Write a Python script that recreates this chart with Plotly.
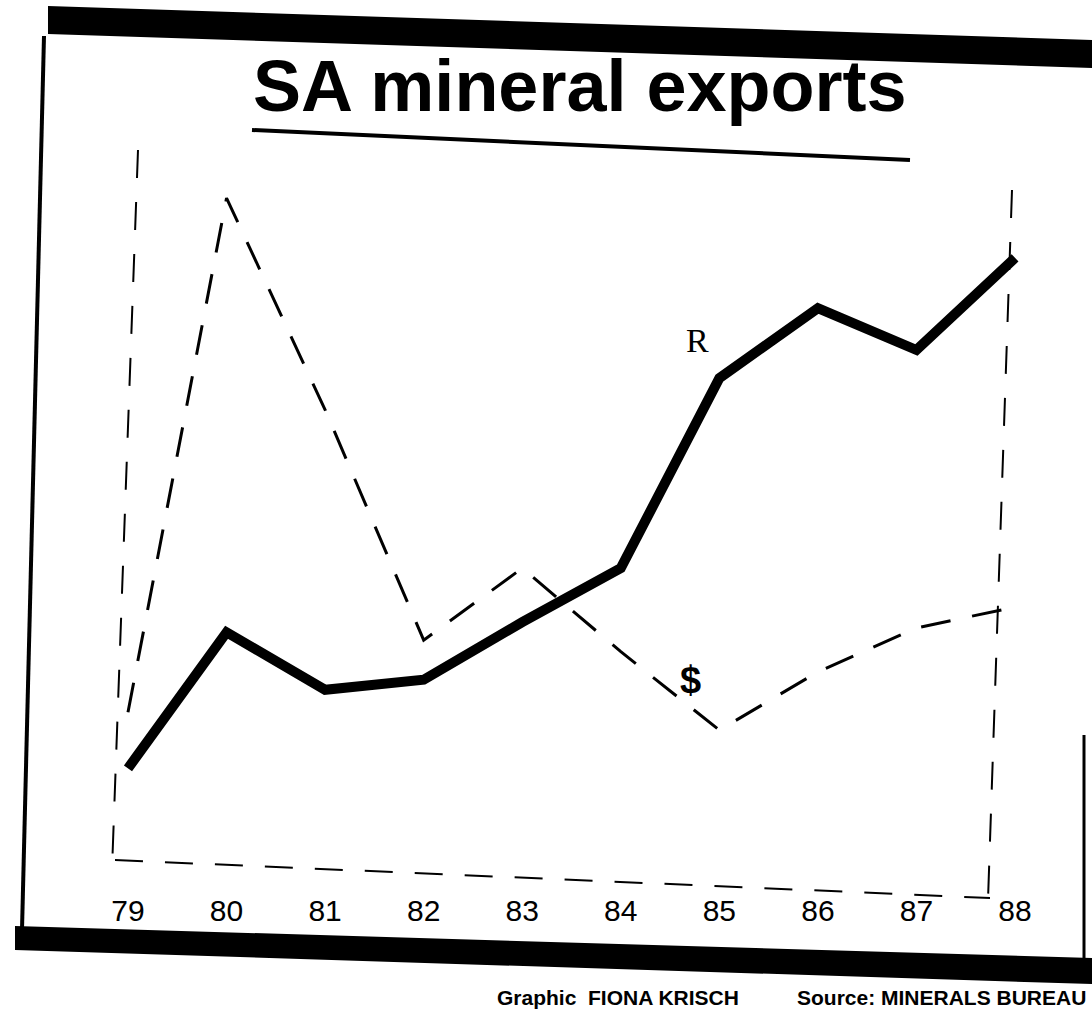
import plotly.graph_objects as go

YEARS = ["79", "80", "81", "82", "83", "84", "85", "86", "87", "88"]
RAND_EXPORTS = [16.9, 35.8, 27.8, 29.2, 37.2, 44.7, 71.1, 80.8, 75.0, 87.8]
DOLLAR_EXPORTS = [24.7, 96.1, 66.7, 34.7, 44.7, 33.1, 22.2, 30.3, 36.4, 39.3]

W, H = 1092, 1022
L, R, T, B = 100, 60, 170, 132
PW, PH = W - L - R, H - T - B


def px(x):
    # page pixel -> paper x
    return (x - L) / PW


def py(y):
    # page pixel -> paper y
    return (H - B - y) / PH


def poly(points):
    return "M " + " L ".join(f"{px(x):.4f},{py(y):.4f}" for x, y in points) + " Z"


def label(text, x, y, size, family="Liberation Sans", xanchor="center"):
    return dict(text=text, x=px(x), y=py(y), xref="paper", yref="paper",
                xanchor=xanchor, yanchor="middle", showarrow=False,
                font=dict(family=family, size=size, color="black"))


fig = go.Figure()
fig.add_trace(go.Scatter(
    x=YEARS, y=DOLLAR_EXPORTS, mode="lines", name="$",
    line=dict(color="black", width=3, dash="30px,22px"),
))
fig.add_trace(go.Scatter(
    x=YEARS, y=RAND_EXPORTS, mode="lines", name="R",
    line=dict(color="black", width=10),
))

shapes = [
    # heavy top and bottom rules of the newspaper box
    dict(type="path", path=poly([(48, 6), (1092, 40), (1092, 68), (48, 34)]),
         xref="paper", yref="paper", fillcolor="black", line=dict(width=0)),
    dict(type="path", path=poly([(15, 926), (1092, 958), (1092, 984), (15, 950)]),
         xref="paper", yref="paper", fillcolor="black", line=dict(width=0)),
    # side rules
    dict(type="line", x0=px(44), y0=py(36), x1=px(22), y1=py(930),
         xref="paper", yref="paper", line=dict(color="black", width=4)),
    dict(type="line", x0=px(1084), y0=py(735), x1=px(1084), y1=py(960),
         xref="paper", yref="paper", line=dict(color="black", width=3)),
    # title underline
    dict(type="line", x0=px(252), y0=py(130), x1=px(910), y1=py(160),
         xref="paper", yref="paper", line=dict(color="black", width=4)),
    # dashed inner frame
    dict(type="line", x0=px(138), y0=py(150), x1=px(112), y1=py(870),
         xref="paper", yref="paper", line=dict(color="black", width=2, dash="28px,24px")),
    dict(type="line", x0=px(1012), y0=py(190), x1=px(988), y1=py(900),
         xref="paper", yref="paper", line=dict(color="black", width=2, dash="28px,24px")),
    dict(type="line", x0=px(115), y0=py(860), x1=px(990), y1=py(898),
         xref="paper", yref="paper", line=dict(color="black", width=2, dash="28px,22px")),
]

credit_font = "Liberation Sans Narrow, Liberation Sans"
annotations = [
    label("<b>SA mineral exports</b>", 580, 86, 72),
    label("R", 697, 340, 34, family="Liberation Serif"),
    label("<b>$</b>", 690, 680, 38),
    label("<b>Graphic  FIONA KRISCH</b>", 495, 998, 21, family=credit_font, xanchor="left"),
    label("<b>Source: MINERALS BUREAU</b>", 1088, 998, 21, family=credit_font, xanchor="right"),
]

fig.update_layout(
    width=W, height=H,
    margin=dict(l=L, r=R, t=T, b=B),
    paper_bgcolor="white", plot_bgcolor="white",
    showlegend=False,
    shapes=shapes, annotations=annotations,
    font=dict(family="Liberation Sans", color="black"),
)
fig.update_xaxes(
    range=[-0.284, 9.172], showgrid=False, zeroline=False, showline=False,
    ticks="", tickfont=dict(family="Liberation Sans Narrow, Liberation Sans", size=30),
    ticklabelstandoff=0,
)
fig.update_yaxes(range=[0, 100], visible=False)

# drop the default page margin so the figure sits flush in the window
fig.write_html(
    "out.html",
    config={"displayModeBar": False},
    post_script="document.body.style.margin='0';",
)
